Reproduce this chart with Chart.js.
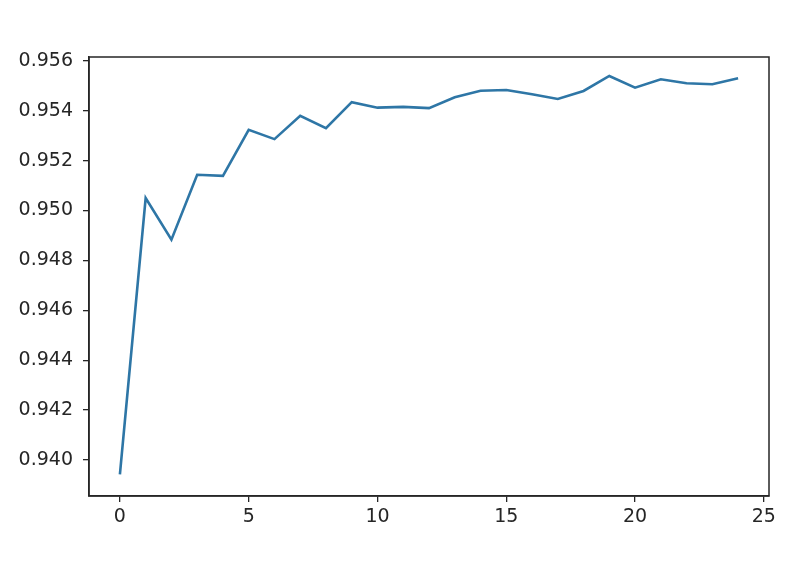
<!DOCTYPE html>
<html>
<head>
<meta charset="utf-8">
<script src="https://cdn.jsdelivr.net/npm/chart.js@4"></script>
<style>
    html, body { margin: 0; padding: 0; background: #fff; }
    #wrap { width: 800px; height: 587px; }
</style>
</head>
<body>
<div id="wrap"><canvas id="accuracy-chart"></canvas></div>
<script>
// Values
const epochs = [0, 1, 2, 3, 4, 5, 6, 7, 8, 9, 10, 11, 12, 13, 14, 15, 16, 17, 18, 19, 20, 21, 22, 23, 24];
const accuracy = [
    0.93943, 0.95050, 0.94883, 0.95143, 0.95139, 0.95323, 0.95286, 0.95379, 0.95330, 0.95434,
    0.95412, 0.95415, 0.95410, 0.95454, 0.95480, 0.95483, 0.95466, 0.95447, 0.95479, 0.95539,
    0.95492, 0.95526, 0.95510, 0.95506, 0.95530
];
const xTicks = [0, 5, 10, 15, 20, 25];
const yTicks = [0.940, 0.942, 0.944, 0.946, 0.948, 0.950, 0.952, 0.954, 0.956];

const tickFont = { family: 'DejaVu Sans', size: 19 };
const inkColor = '#262626';

// draws the top and right spines so the plot gets a full box
const frameBox = {
    id: 'frameBox',
    afterDraw(chart) {
        const { ctx, chartArea } = chart;
        ctx.save();
        ctx.strokeStyle = inkColor;
        ctx.lineWidth = 1.5;
        ctx.strokeRect(chartArea.left, chartArea.top, chartArea.right - chartArea.left, chartArea.bottom - chartArea.top);
        ctx.restore();
    }
};

const ctx = document.getElementById('accuracy-chart').getContext('2d');
new Chart(ctx, {
    type: 'line',
    data: {
        datasets: [{
            data: epochs.map((e, i) => ({ x: e, y: accuracy[i] })),
            borderColor: '#2e76a6',
            borderWidth: 2.6,
            pointRadius: 0,
            tension: 0,
            fill: false
        }]
    },
    options: {
        responsive: true,
        maintainAspectRatio: false,
        animation: false,
        layout: {
            padding: { left: 0, top: 57, right: 31, bottom: 0 }
        },
        scales: {
            x: {
                type: 'linear',
                min: -1.2,
                max: 25.2,
                afterBuildTicks: (scale) => { scale.ticks = xTicks.map(v => ({ value: v })); },
                afterFit: (scale) => { scale.height = 91; },
                ticks: {
                    font: tickFont,
                    color: inkColor,
                    padding: 4,
                    maxRotation: 0,
                    callback: (v) => String(v)
                },
                grid: {
                    drawOnChartArea: false,
                    drawTicks: true,
                    tickLength: 6,
                    color: inkColor,
                    lineWidth: 1.3
                },
                border: { display: true, color: inkColor, width: 1.5 }
            },
            y: {
                min: 0.93856,
                max: 0.95615,
                afterBuildTicks: (scale) => { scale.ticks = yTicks.map(v => ({ value: v })); },
                afterFit: (scale) => { scale.width = 89; },
                ticks: {
                    font: tickFont,
                    color: inkColor,
                    padding: 10,
                    callback: (v) => v.toFixed(3)
                },
                grid: {
                    drawOnChartArea: false,
                    drawTicks: true,
                    tickLength: 6,
                    color: inkColor,
                    lineWidth: 1.3
                },
                border: { display: true, color: inkColor, width: 1.5 }
            }
        },
        plugins: {
            legend: { display: false },
            tooltip: { enabled: false }
        }
    },
    plugins: [frameBox]
});
</script>
</body>
</html>
